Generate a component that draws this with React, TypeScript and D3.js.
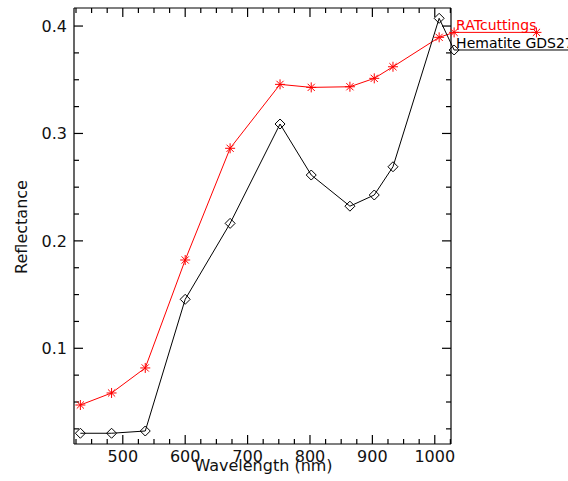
import React, { useLayoutEffect, useRef, useState } from "react";
import * as d3 from "d3";

const wavelengths = [432, 482, 536, 600, 672, 752, 802, 864, 903, 933, 1007, 1031];
const ratCuttings = [0.0472, 0.0584, 0.0817, 0.1822, 0.2862, 0.3457, 0.3429, 0.3435, 0.3513, 0.3621, 0.3895, 0.3941];
const hematite = [0.0209, 0.0209, 0.023, 0.1456, 0.2163, 0.3088, 0.2613, 0.2323, 0.2427, 0.269, 0.4072, 0.3777];
const seriesNames = ["RATcuttings", "Hematite GDS27"];
const xMajorTicks = [500, 600, 700, 800, 900, 1000];
const yMajorTicks = [0.1, 0.2, 0.3, 0.4];
const xDomain = [421.8, 1026];
const yDomain = [0.0109, 0.4168];

const W = 568, H = 481;
const L = 74, R = 451, T = 8, B = 444;
const FONT = "'DejaVu Sans', sans-serif";

function Star({ x, y, color }: { x: number; y: number; color: string }) {
  const r = 5, d = 3.6;
  return (
    <g stroke={color} strokeWidth={1}>
      <line x1={x - r} y1={y} x2={x + r} y2={y} />
      <line x1={x} y1={y - r} x2={x} y2={y + r} />
      <line x1={x - d} y1={y - d} x2={x + d} y2={y + d} />
      <line x1={x - d} y1={y + d} x2={x + d} y2={y - d} />
    </g>
  );
}

function Diamond({ x, y, color }: { x: number; y: number; color: string }) {
  const r = 5;
  return (
    <path
      d={`M${x},${y - r}L${x + r},${y}L${x},${y + r}L${x - r},${y}Z`}
      fill="none"
      stroke={color}
      strokeWidth={1}
    />
  );
}

export default function App() {
  const x = d3.scaleLinear().domain(xDomain).range([L, R]);
  const y = d3.scaleLinear().domain(yDomain).range([B, T]);
  const line = d3.line<number>().x((_, i) => x(wavelengths[i])).y((v) => y(v));

  const textRefs = [useRef<SVGTextElement>(null), useRef<SVGTextElement>(null)];
  const [widths, setWidths] = useState<number[]>([84, 110]);
  useLayoutEffect(() => {
    const w = textRefs.map((r, i) => (r.current ? r.current.getComputedTextLength() : widths[i]));
    setWidths(w);
  }, []);

  const xMinor = d3.range(425, 1026, 25).filter((v) => v >= xDomain[0] && v <= xDomain[1] && v % 100 !== 0);
  const yMinor = d3.range(1, 17).map((k) => k * 0.025).filter((v) => v >= yDomain[0] && v <= yDomain[1] && Math.abs(v * 10 - Math.round(v * 10)) > 1e-6);

  const series = [
    { vals: ratCuttings, color: "#ff0000", marker: "star" },
    { vals: hematite, color: "#000000", marker: "diamond" },
  ];

  const majLen = 9, minLen = 5;

  return (
    <svg width={W} height={H} style={{ position: "absolute", left: 0, top: 0, background: "#fff" }}>
      <rect x={0} y={0} width={W} height={H} fill="#fff" />
      {/* axes box */}
      <g stroke="#000" strokeWidth={1.2} fill="none">
        <line x1={L} y1={T} x2={L} y2={B} />
        <line x1={R} y1={T} x2={R} y2={B} />
        <line x1={L} y1={T} x2={R} y2={T} />
        <line x1={L} y1={B} x2={R} y2={B} />
        {xMajorTicks.map((t) => (
          <g key={"xm" + t}>
            <line x1={x(t)} y1={B} x2={x(t)} y2={B - majLen} />
            <line x1={x(t)} y1={T} x2={x(t)} y2={T + majLen} />
          </g>
        ))}
        {xMinor.map((t) => (
          <g key={"xn" + t}>
            <line x1={x(t)} y1={B} x2={x(t)} y2={B - minLen} />
            <line x1={x(t)} y1={T} x2={x(t)} y2={T + minLen} />
          </g>
        ))}
        {yMajorTicks.map((t) => (
          <g key={"ym" + t}>
            <line x1={L} y1={y(t)} x2={L + majLen} y2={y(t)} />
            <line x1={R} y1={y(t)} x2={R - majLen} y2={y(t)} />
          </g>
        ))}
        {yMinor.map((t) => (
          <g key={"yn" + t}>
            <line x1={L} y1={y(t)} x2={L + minLen} y2={y(t)} />
            <line x1={R} y1={y(t)} x2={R - minLen} y2={y(t)} />
          </g>
        ))}
      </g>
      {/* tick labels */}
      <g fontFamily={FONT} fontSize={16} fill="#111">
        {xMajorTicks.map((t) => (
          <text key={"xl" + t} x={x(t)} y={461.5} textAnchor="middle">
            {t}
          </text>
        ))}
        {yMajorTicks.map((t) => (
          <text key={"yl" + t} x={67} y={y(t) + 5.8} textAnchor="end">
            {d3.format(".1f")(t)}
          </text>
        ))}
        <text x={(L + R) / 2 + 1} y={471} textAnchor="middle">
          Wavelength (nm)
        </text>
        <text transform={`translate(27,${(T + B) / 2 + 1}) rotate(-90)`} textAnchor="middle">
          Reflectance
        </text>
      </g>
      {/* series */}
      {series.map((s, si) => {
        const n = s.vals.length;
        const lx = x(wavelengths[n - 1]);
        const ly = y(s.vals[n - 1]);
        const ex = lx + 2 + widths[si];
        const Marker = s.marker === "star" ? Star : Diamond;
        return (
          <g key={"s" + si}>
            <path d={line(s.vals) || ""} fill="none" stroke={s.color} strokeWidth={1} />
            {s.vals.map((v, i) => (
              <Marker key={i} x={x(wavelengths[i])} y={y(v)} color={s.color} />
            ))}
            <line x1={lx} y1={ly} x2={ex} y2={ly} stroke={s.color} strokeWidth={1} />
            <Marker x={ex} y={ly} color={s.color} />
            <text
              ref={textRefs[si]}
              x={lx + 2}
              y={ly - 2}
              fontFamily={FONT}
              fontSize={14}
              fill={s.color}
            >
              {seriesNames[si]}
            </text>
          </g>
        );
      })}
    </svg>
  );
}
